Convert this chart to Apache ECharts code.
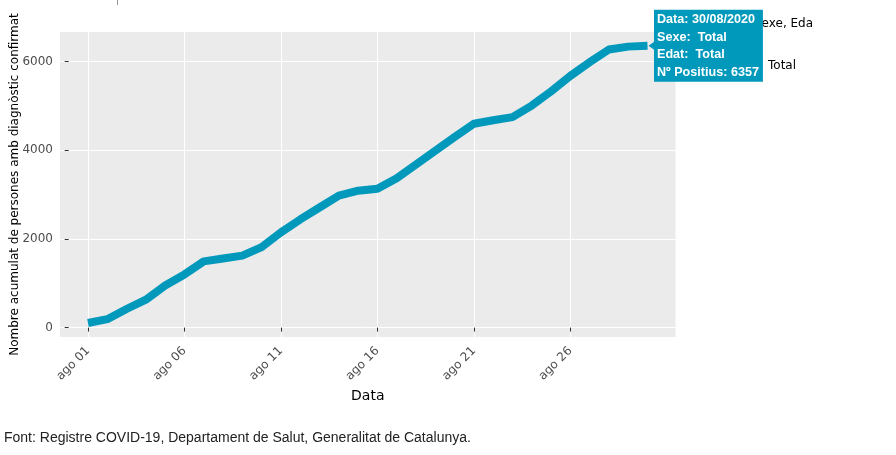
<!DOCTYPE html>
<html>
<head>
<meta charset="utf-8">
<script src="https://cdn.jsdelivr.net/npm/echarts@6/dist/echarts.min.js"></script>
<style>
html,body{margin:0;padding:0;background:#fff;}
#chart{width:896px;height:455px;}
</style>
</head>
<body>
<div id="chart"></div>
<script>
// Data: August 2020, cumulative confirmed positives (Total)
var days = [1,2,3,4,5,6,7,8,9,10,11,12,13,14,15,16,17,18,19,20,21,22,23,24,25,26,27,28,29,30];
var positius = [105,190,420,630,950,1200,1495,1560,1625,1815,2150,2440,2710,2980,3090,3135,3370,3680,3990,4300,4600,4680,4750,5010,5330,5680,5990,6275,6340,6357];
var xTicks = [1,6,11,16,21,26];
var yTicks = [0,2000,4000,6000];
var seriesName = 'Total';
var sexe = 'Total';
var edat = 'Total';

var lineColor = '#0099BC';
var chart = echarts.init(document.getElementById('chart'), null, {renderer:'canvas'});

var data = days.map(function(d,i){ return [d, positius[i]]; });
var last = data.length - 1;
function pad(n){ return (n<10?'0':'') + n; }

var option = {
  animation: false,
  backgroundColor: '#ffffff',
  grid: { left: 60, right: 220.5, top: 32, bottom: 118, show: true, backgroundColor: '#EBEBEB', borderWidth: 0, containLabel: false, outerBoundsMode: 'none' },
  legend: {
    data: [seriesName], left: 732, top: 55, itemWidth: 25, itemHeight: 14, itemGap: 5, z: 0,
    textStyle: { fontFamily: 'DejaVu Sans', fontSize: 12, color: '#000' }
  },
  xAxis: {
    type: 'value', min: -0.45, max: 31.45,
    name: 'Data', nameLocation: 'middle', nameGap: 52, nameMoveOverlap: false,
    nameTextStyle: { fontFamily: 'DejaVu Sans', fontSize: 14, color: '#000' },
    axisLine: { show: false },
    axisTick: { show: true, length: 4, lineStyle: { color: '#333333' }, customValues: xTicks },
    axisLabel: {
      customValues: xTicks, rotate: 45, margin: 12,
      fontFamily: 'DejaVu Sans', fontSize: 12, color: '#4D4D4D',
      formatter: function(v){ return 'ago ' + pad(Math.round(v)); }
    },
    splitLine: { show: true, lineStyle: { color: '#FFFFFF', width: 1 } }
  },
  yAxis: {
    type: 'value', min: -212, max: 6670,
    name: 'Nombre acumulat de persones amb diagnòstic confirmat',
    nameLocation: 'middle', nameGap: 39, nameRotate: 90, nameMoveOverlap: false,
    nameTextStyle: { fontFamily: 'DejaVu Sans', fontSize: 12, color: '#000' },
    axisLine: { show: false },
    axisTick: { show: true, length: 4, lineStyle: { color: '#333333' }, customValues: yTicks },
    axisLabel: { customValues: yTicks, margin: 7, fontFamily: 'DejaVu Sans', fontSize: 12, color: '#4D4D4D',
      formatter: function(v){ return String(Math.round(v)); } },
    splitLine: { show: true, lineStyle: { color: '#FFFFFF', width: 1 } }
  },
  series: [{
    name: seriesName, type: 'line', data: data, z: 5,
    showSymbol: false, symbol: 'none',
    lineStyle: { color: lineColor, width: 8, cap: 'butt', join: 'round' },
    itemStyle: { color: lineColor },
    markPoint: {
      z: 6,
      symbol: 'path://M0,5 L7,0 L7,10 Z',
      symbolSize: [7, 10], symbolOffset: [4.5, 0],
      itemStyle: { color: lineColor },
      label: {
        show: true, position: 'right', distance: -1.5,
        backgroundColor: lineColor, color: '#FFFFFF',
        fontFamily: 'Liberation Sans', fontWeight: 'bold', fontSize: 12.6,
        lineHeight: 17.5, padding: [1, 4, 1, 3], align: 'left', verticalAlign: 'middle',
        formatter: function(){
          return 'Data: ' + pad(days[last]) + '/08/2020\nSexe:  ' + sexe + '\nEdat:  ' + edat + '\nNº Positius: ' + positius[last];
        }
      },
      data: [{ coord: data[last] }]
    }
  }],
  graphic: [
    { type: 'text', left: 4, top: 431, z: 10,
      style: { text: 'Font: Registre COVID-19, Departament de Salut, Generalitat de Catalunya.', font: '14px "Liberation Sans"', fill: '#222222' } },
    { type: 'text', left: 754, top: 18, z: 0,
      style: { text: 'Sexe, Eda', font: '12px "DejaVu Sans"', fill: '#000000' } },
    { type: 'line', z: 10, shape: { x1: 117.5, y1: 0, x2: 117.5, y2: 5 }, style: { stroke: '#999999', lineWidth: 1 } }
  ]
};
chart.setOption(option);
</script>
</body>
</html>
